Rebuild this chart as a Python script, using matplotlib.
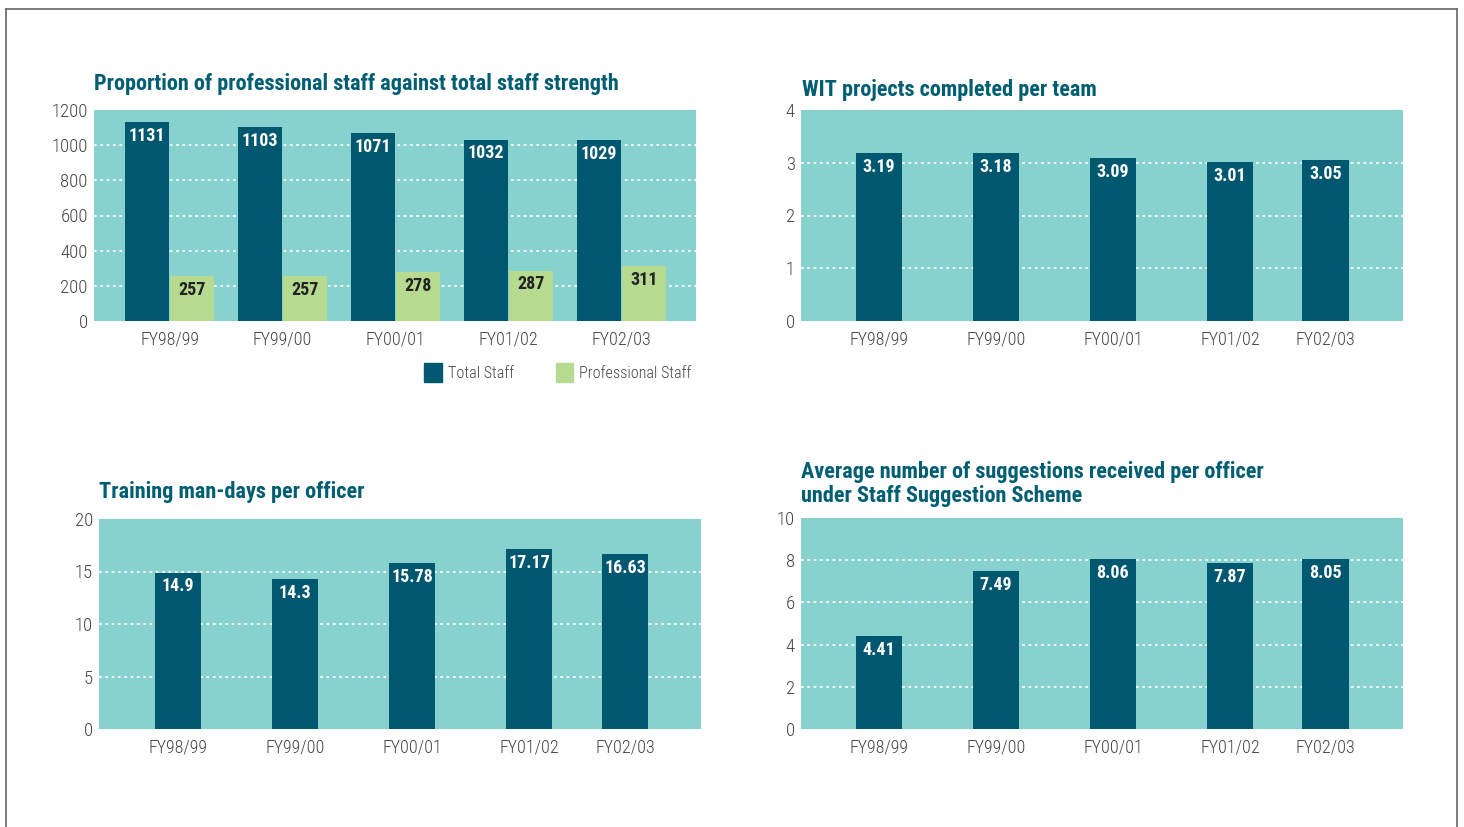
import matplotlib.pyplot as plt
import matplotlib.lines as mlines
from matplotlib.patches import Patch

plt.rcParams['font.family'] = ['Roboto Condensed', 'Roboto', 'DejaVu Sans']

years = ['FY98/99', 'FY99/00', 'FY00/01', 'FY01/02', 'FY02/03']
total_staff = [1131, 1103, 1071, 1032, 1029]
prof_staff = [257, 257, 278, 287, 311]
wit_projects = [3.19, 3.18, 3.09, 3.01, 3.05]
training_days = [14.9, 14.3, 15.78, 17.17, 16.63]
suggestions = [4.41, 7.49, 8.06, 7.87, 8.05]
suggestion_labels = ['4.41', '7.49', '8.06', '7.87', '8.05']

BG = '#87d1cf'
DARK = '#005870'
GREEN = '#b6da90'
TITLE = '#005e73'
TICK = '#444444'

W, H = 1464, 827
fig = plt.figure(figsize=(W / 100, H / 100), dpi=100)


def px_axes(x0, y0, x1, y1):
    # pixel box (top-left origin) -> figure axes
    return fig.add_axes([x0 / W, 1 - y1 / H, (x1 - x0) / W, (y1 - y0) / H])


def style(ax, ymax, step, xlim):
    ax.set_facecolor(BG)
    for s in ax.spines.values():
        s.set_visible(False)
    ax.set_ylim(0, ymax)
    ax.set_xlim(*xlim)
    ticks = [i * step for i in range(int(round(ymax / step)) + 1)]
    ax.set_yticks(ticks)
    ax.set_yticklabels([f'{t:g}' for t in ticks])
    for t in ticks[1:-1]:
        ax.axhline(t, color='white', ls=(0, (1.5, 2)), lw=1.3, zorder=1)
    ax.tick_params(length=0, labelsize=13, colors=TICK, pad=7)
    ax.tick_params(axis='y', labelsize=13.5, pad=4.5)
    for lab in ax.get_xticklabels() + ax.get_yticklabels():
        lab.set_fontweight('light')


def labels(ax, xs, vals, texts, color):
    for x, v, t in zip(xs, vals, texts):
        ax.annotate(t, (x, v), xytext=(0, -3.5), textcoords='offset points',
                    ha='center', va='top', color=color, fontsize=13,
                    fontweight='bold', zorder=4)


# top-left: total vs professional staff
ax1 = px_axes(94, 110, 696, 321)
pos1 = [0, 1, 2, 3, 4]
style(ax1, 1200, 200, (-0.67, 4.66))
ax1.bar([p - 0.2 for p in pos1], total_staff, width=0.39, color=DARK, zorder=2)
ax1.bar([p + 0.2 for p in pos1], prof_staff, width=0.39, color=GREEN, zorder=2)
ax1.set_xticks(pos1)
ax1.set_xticklabels(years, fontweight='light')
labels(ax1, [p - 0.2 for p in pos1], total_staff, [str(v) for v in total_staff], 'white')
labels(ax1, [p + 0.2 for p in pos1], prof_staff, [str(v) for v in prof_staff], '#222222')
leg = ax1.legend(handles=[Patch(color=DARK, label='Total Staff'),
                          Patch(color=GREEN, label='Professional Staff')],
                 loc='upper right', bbox_to_anchor=(1.003, -0.17), ncol=2, frameon=False,
                 fontsize=11.6, handlelength=1.1, handleheight=1.4, handletextpad=0.35,
                 columnspacing=2.6, labelcolor=TICK, borderaxespad=0)
for t in leg.get_texts():
    t.set_fontweight('light')

# other panels share uneven bar spacing
pos2 = [0, 1, 2, 3, 3.82]

ax2 = px_axes(801, 110, 1403, 321)
style(ax2, 4, 1, (-0.667, 4.48))
ax2.bar(pos2, wit_projects, width=0.4, color=DARK, zorder=2)
ax2.set_xticks(pos2)
ax2.set_xticklabels(years, fontweight='light')
labels(ax2, pos2, wit_projects, [f'{v:.2f}' for v in wit_projects], 'white')

ax3 = px_axes(99, 519, 701, 729)
style(ax3, 20, 5, (-0.675, 4.47))
ax3.bar(pos2, training_days, width=0.4, color=DARK, zorder=2)
ax3.set_xticks(pos2)
ax3.set_xticklabels(years, fontweight='light')
labels(ax3, pos2, training_days, [f'{v:g}' for v in training_days], 'white')

ax4 = px_axes(801, 518, 1403, 729)
style(ax4, 10, 2, (-0.667, 4.48))
ax4.bar(pos2, suggestions, width=0.4, color=DARK, zorder=2)
ax4.set_xticks(pos2)
ax4.set_xticklabels(years, fontweight='light')
labels(ax4, pos2, suggestions, suggestion_labels, 'white')

# titles
tkw = dict(color=TITLE, fontsize=16, fontweight='bold', ha='left', va='baseline')
fig.text(94 / W, 1 - 90 / H, 'Proportion of professional staff against total staff strength', **tkw)
fig.text(802 / W, 1 - 96 / H, 'WIT projects completed per team', **tkw)
fig.text(99 / W, 1 - 498 / H, 'Training man-days per officer', **tkw)
fig.text(801 / W, 1 - 478 / H, 'Average number of suggestions received per officer', **tkw)
fig.text(801 / W, 1 - 502 / H, 'under Staff Suggestion Scheme', **tkw)

# page frame
fc = '#666666'
fig.add_artist(mlines.Line2D([6 / W, 1457 / W], [1 - 9 / H, 1 - 9 / H], color=fc, lw=1.2))
fig.add_artist(mlines.Line2D([6 / W, 6 / W], [0, 1 - 9 / H], color=fc, lw=1.2))
fig.add_artist(mlines.Line2D([1457 / W, 1457 / W], [0, 1 - 9 / H], color=fc, lw=1.2))

fig.savefig('out.png', dpi=100, facecolor='white')
